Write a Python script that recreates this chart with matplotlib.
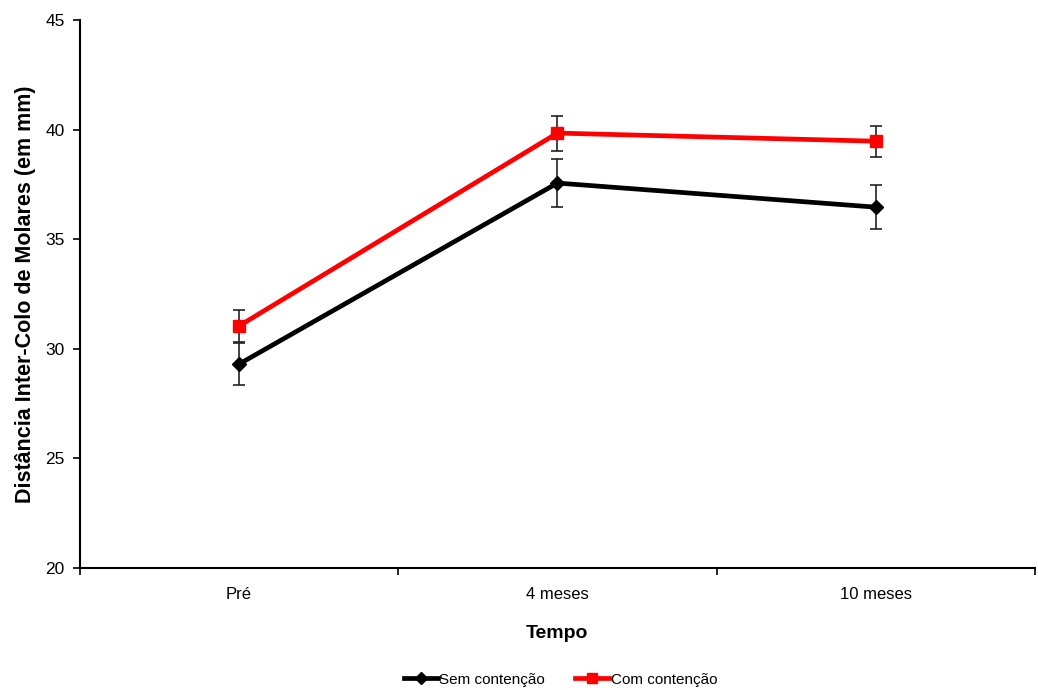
import matplotlib.pyplot as plt
import numpy as np
from matplotlib.lines import Line2D

plt.rcParams['font.family'] = ['Liberation Sans', 'DejaVu Sans']

# dados
tempos = ['Pré', '4 meses', '10 meses']
sem_contencao = [29.3, 37.56, 36.46]
sem_erro = [0.95, 1.08, 1.0]
com_contencao = [31.04, 39.84, 39.47]
com_erro = [0.73, 0.8, 0.71]

fig = plt.figure(figsize=(10.38, 6.9), dpi=100)
ax = fig.add_axes([0.077, 0.177, 0.92, 0.794])

x = np.arange(len(tempos)) + 0.5

ax.errorbar(x, sem_contencao, yerr=sem_erro, color='black', lw=3.4,
            marker='D', ms=7, ecolor='#222222', elinewidth=1.2, capsize=4,
            capthick=1.2, zorder=3)
ax.errorbar(x, com_contencao, yerr=com_erro, color='#ff0000', lw=3.4,
            marker='s', ms=8.5, ecolor='#222222', elinewidth=1.2, capsize=4,
            capthick=1.2, zorder=4)

ax.set_xlim(0, 3)
ax.set_ylim(20, 45)
ax.set_yticks(np.arange(20, 46, 5))
ax.set_xticks([0, 1, 2, 3])
ax.set_xticklabels([])
ax.set_xticks(x, minor=True)
ax.set_xticklabels(tempos, minor=True)
ax.tick_params(axis='x', which='minor', length=0, pad=14, labelsize=12)
ax.tick_params(axis='x', which='major', length=5, width=1.2)
ax.tick_params(axis='y', length=5, width=1.2, labelsize=12.5, pad=6)

for s in ['top', 'right']:
    ax.spines[s].set_visible(False)
for s in ['left', 'bottom']:
    ax.spines[s].set_linewidth(1.5)

ax.set_xlabel('Tempo', fontsize=14, fontweight='bold', labelpad=16)
ax.set_ylabel('Distância Inter-Colo de Molares (em mm)', fontsize=15.5,
              fontweight='bold', labelpad=7)

handles = [
    Line2D([], [], color='black', lw=3.4, marker='D', ms=6),
    Line2D([], [], color='#ff0000', lw=3.4, marker='s', ms=7.5),
]
fig.legend(handles, ['Sem contenção', 'Com contenção'], loc='lower center',
           ncol=2, frameon=False, fontsize=11,
           bbox_to_anchor=(0.54, -0.015), handlelength=2.2,
           handletextpad=0.1, columnspacing=2)

fig.savefig('out.png', dpi=100)
